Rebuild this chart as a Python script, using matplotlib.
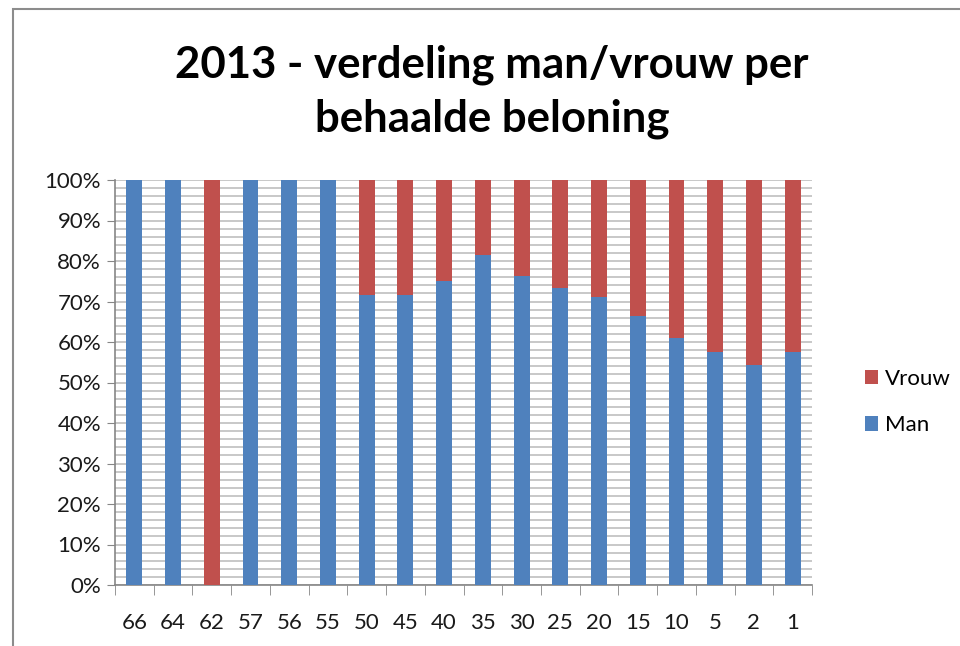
import numpy as np
import matplotlib.pyplot as plt
from matplotlib.ticker import FixedLocator, MultipleLocator, PercentFormatter
from matplotlib.patches import Rectangle

categories = ['66', '64', '62', '57', '56', '55', '50', '45', '40', '35',
              '30', '25', '20', '15', '10', '5', '2', '1']
man = [100, 100, 0, 100, 100, 100, 71.5, 71.5, 75.0, 81.5,
       76.4, 73.3, 71.0, 66.5, 61.0, 57.5, 54.3, 57.5]
vrouw = [100 - m for m in man]

blue = '#4F81BD'
red = '#C0504D'
grid_col = '#BFBFBF'
axis_col = '#868686'

plt.rcParams['font.family'] = ['Lato', 'DejaVu Sans']

fig = plt.figure(figsize=(9.6, 6.46), dpi=100)
ax = fig.add_axes([115 / 960, 1 - 585 / 646, (812 - 115) / 960, (585 - 180) / 646])

# outer chart border
fig.patches.append(Rectangle((12.5 / 960, -0.05), 1.1, 1 - 8.5 / 646 + 0.05,
                             transform=fig.transFigure, fill=False,
                             edgecolor='#8C8C8C', linewidth=1.5))

x = np.arange(len(categories))
ax.bar(x, man, width=0.41, color=blue, label='Man', zorder=3)
ax.bar(x, vrouw, width=0.41, bottom=man, color=red, label='Vrouw', zorder=3)

ax.set_xlim(-0.5, len(categories) - 0.5)
ax.set_ylim(0, 100)

ax.yaxis.set_major_locator(MultipleLocator(10))
ax.yaxis.set_major_formatter(PercentFormatter(decimals=0))
ax.yaxis.set_minor_locator(MultipleLocator(2))
ax.grid(axis='y', which='both', color=grid_col, linewidth=1.2, zorder=0)

ax.set_xticks(x)
ax.set_xticklabels(categories)
ax.xaxis.set_minor_locator(FixedLocator(np.arange(-0.5, len(categories), 1)))
ax.tick_params(axis='x', which='major', length=0, pad=20, labelsize=16, colors='#1a1a1a')
ax.tick_params(axis='x', which='minor', length=7, color=axis_col, direction='out')
ax.tick_params(axis='y', which='major', length=6, color=axis_col, labelsize=16,
               colors='#1a1a1a', pad=4)
ax.tick_params(axis='y', which='minor', length=0)

for side in ['top', 'right']:
    ax.spines[side].set_visible(False)
for side in ['left', 'bottom']:
    ax.spines[side].set_color(axis_col)
    ax.spines[side].set_linewidth(1.2)

fig.text(492 / 960, 1 - 92 / 646, '2013 - verdeling man/vrouw per\nbehaalde beloning',
         ha='center', va='center', fontsize=31.5, fontweight='bold',
         linespacing=1.4, color='black')

handles, labels = ax.get_legend_handles_labels()
leg = fig.legend(handles[::-1], labels[::-1], loc='center left',
                 bbox_to_anchor=(845 / 960, 1 - 402 / 646), frameon=False,
                 fontsize=16, handlelength=0.6, handleheight=0.6,
                 handletextpad=0.3, labelspacing=1.2)

fig.savefig('out.png', dpi=100)
